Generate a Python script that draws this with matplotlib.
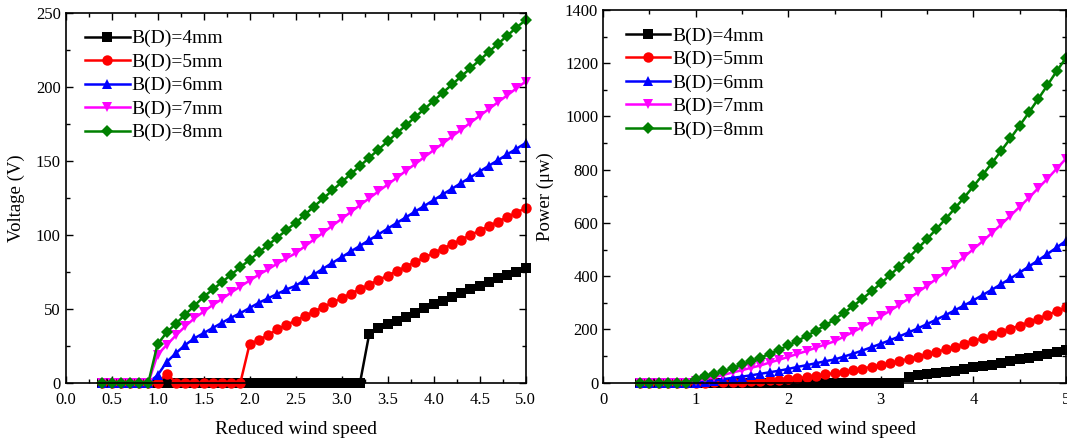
import matplotlib
matplotlib.use("Agg")
import matplotlib.pyplot as plt
from matplotlib.ticker import MultipleLocator, FormatStrFormatter

plt.rcParams['font.family'] = ['Liberation Serif', 'DejaVu Serif']

x = [0.4, 0.5, 0.6, 0.7, 0.8, 0.9, 1.0, 1.1, 1.2, 1.3, 1.4, 1.5, 1.6, 1.7, 1.8, 1.9,
     2.0, 2.1, 2.2, 2.3, 2.4, 2.5, 2.6, 2.7, 2.8, 2.9, 3.0, 3.1, 3.2, 3.3, 3.4, 3.5,
     3.6, 3.7, 3.8, 3.9, 4.0, 4.1, 4.2, 4.3, 4.4, 4.5, 4.6, 4.7, 4.8, 4.9, 5.0]

labels = ['B(D)=4mm', 'B(D)=5mm', 'B(D)=6mm', 'B(D)=7mm', 'B(D)=8mm']

# Voltage (V)
v_4mm = [0, 0, 0, 0, 0, 0, 0, 0, 0, 0, 0, 0, 0, 0, 0, 0,
         0, 0, 0, 0, 0, 0, 0, 0, 0, 0, 0, 0, 0, 33.0, 36.7, 39.4,
         42.0, 44.6, 47.3, 50.2, 53.0, 55.3, 57.8, 60.4, 63.0, 65.5, 68.2, 70.5, 72.8, 75.0, 77.3]
v_5mm = [0, 0, 0, 0, 0, 0, 0, 6.0, 0, 0, 0, 0, 0, 0, 0, 0,
         26.0, 29.0, 32.0, 36.0, 39.0, 42.0, 45.0, 48.1, 51.1, 54.2, 57.2, 60.2, 63.3, 66.3, 69.4, 72.4,
         75.4, 78.5, 81.5, 84.6, 87.6, 90.6, 93.7, 96.7, 99.8, 102.8, 105.8, 108.9, 111.9, 115.0, 118.0]
v_6mm = [0, 0, 0, 0, 0, 0, 5.0, 14.0, 20.0, 25.5, 30.0, 33.5, 37.0, 40.5, 44.0, 47.0,
         50.5, 54.0, 57.0, 60.0, 63.0, 65.5, 69.4, 73.2, 77.1, 81.0, 84.8, 88.7, 92.5, 96.4, 100.2, 104.1,
         108.0, 111.8, 115.7, 119.5, 123.4, 127.3, 131.1, 135.0, 138.8, 142.7, 146.6, 150.4, 154.3, 158.1, 162.0]
v_7mm = [0, 0, 0, 0, 0, 0, 19.0, 25.5, 32.0, 38.0, 43.5, 48.0, 52.5, 56.5, 61.0, 65.0,
         69.0, 73.0, 76.5, 80.5, 84.0, 87.5, 92.1, 96.8, 101.4, 106.1, 110.7, 115.3, 120.0, 124.6, 129.3, 133.9,
         138.5, 143.2, 147.8, 152.5, 157.1, 161.7, 166.4, 171.0, 175.7, 180.3, 184.9, 189.6, 194.2, 198.9, 203.5]
v_8mm = [0, 0, 0, 0, 0, 0, 26.0, 34.0, 40.0, 46.0, 52.0, 58.0, 63.0, 68.0, 73.0, 78.0,
         83.0, 88.0, 93.0, 98.0, 103.0, 108.0, 113.5, 119.0, 124.5, 130.0, 135.5, 141.0, 146.5, 152.0, 157.5, 163.0,
         168.5, 174.0, 179.5, 185.0, 190.5, 196.0, 201.5, 207.0, 212.5, 218.0, 223.5, 229.0, 234.5, 240.0, 245.0]

# Power (uW)
p_4mm = [0, 0, 0, 0, 0, 0, 0, 0, 0, 0, 0, 0, 0, 0, 0, 0,
         0, 0, 0, 0, 0, 0, 0, 0, 0, 0, 0, 0, 0, 22.1, 27.4, 31.6,
         35.9, 40.4, 45.5, 51.2, 57.1, 62.2, 67.9, 74.1, 80.7, 87.2, 94.5, 101.0, 107.7, 114.3, 121.4]
p_5mm = [0, 0, 0, 0, 0, 0, 0, 0.5, 1.0, 1.5, 2.5, 3.5, 5.0, 6.5, 8.5, 11.0,
         13.7, 17.1, 20.8, 26.3, 30.9, 35.9, 41.2, 47.0, 53.1, 59.7, 66.5, 73.7, 81.4, 89.3, 97.9, 106.5,
         115.5, 125.2, 135.0, 145.5, 156.0, 166.8, 178.4, 190.0, 202.4, 214.8, 227.5, 241.0, 254.5, 268.8, 283.0]
p_6mm = [0, 0, 0, 0, 0, 0, 0.5, 4.0, 8.1, 13.2, 18.3, 22.8, 27.8, 33.3, 39.3, 44.9,
         51.8, 59.3, 66.0, 73.2, 80.7, 87.2, 97.9, 108.9, 120.8, 133.4, 146.2, 159.9, 173.9, 188.9, 204.1, 220.3,
         237.1, 254.0, 272.1, 290.3, 309.5, 329.4, 349.3, 370.4, 391.6, 413.9, 436.8, 459.8, 483.9, 508.0, 533.4]
p_7mm = [0, 0, 0, 0, 0, 0, 7.3, 13.2, 20.8, 29.3, 38.5, 46.8, 56.0, 64.9, 75.6, 85.9,
         96.8, 108.3, 119.0, 131.7, 143.4, 155.6, 172.4, 190.5, 209.0, 228.8, 249.1, 270.2, 292.7, 315.6, 339.8, 364.4,
         389.9, 416.8, 444.0, 472.7, 501.6, 531.4, 562.8, 594.3, 627.5, 660.7, 694.9, 730.7, 766.5, 804.1, 841.7]
p_8mm = [0, 0, 0, 0, 0, 0, 13.7, 23.5, 32.5, 43.0, 55.0, 68.4, 80.7, 94.0, 108.3, 123.7,
         140.0, 157.4, 175.8, 195.2, 215.6, 237.0, 261.8, 287.8, 315.0, 343.5, 373.2, 404.0, 436.2, 469.6, 504.2, 540.0,
         577.0, 615.4, 655.0, 695.6, 737.6, 780.8, 825.2, 871.0, 917.8, 966.0, 1015.3, 1066.0, 1117.7, 1170.7, 1220.0]

colors = ['#000000', '#FF0000', '#0000FF', '#FF00FF', '#008000']
markers = ['s', 'o', '^', 'v', 'D']
msizes = [6.5, 7.5, 7.5, 7.5, 6.5]

W, H = 1067, 441
fig = plt.figure(figsize=(W / 100, H / 100), dpi=100)
ax1 = fig.add_axes([65.5 / W, 1 - 382.7 / H, (525.7 - 65.5) / W, (382.7 - 12.7) / H])
ax2 = fig.add_axes([603 / W, 1 - 382.7 / H, (1066 - 603) / W, (382.7 - 10) / H])


def draw(ax, series, bx):
    for ys, c, m, ms, lab in zip(series, colors, markers, msizes, labels):
        ax.plot(x, ys, color=c, marker=m, markersize=ms, linewidth=1.8, label=lab,
                markeredgewidth=0, clip_on=False)
    ax.tick_params(which='both', direction='in', top=True, right=True, labelsize=12,
                   width=1.0, colors='black')
    ax.tick_params(which='major', length=5)
    ax.tick_params(which='minor', length=3)
    ax.tick_params(axis='x', which='major', pad=7)
    for s in ax.spines.values():
        s.set_linewidth(1.2)
    ax.legend(loc='upper left', frameon=False, fontsize=14, handlelength=2.3,
              handletextpad=0.1, labelspacing=0.3, borderaxespad=0.0,
              bbox_to_anchor=(bx, 0.975))


draw(ax1, [v_4mm, v_5mm, v_6mm, v_7mm, v_8mm], 0.025)
ax1.set_xlim(0, 5)
ax1.set_ylim(0, 250)
ax1.xaxis.set_major_locator(MultipleLocator(0.5))
ax1.xaxis.set_minor_locator(MultipleLocator(0.25))
ax1.yaxis.set_major_locator(MultipleLocator(50))
ax1.yaxis.set_minor_locator(MultipleLocator(25))
ax1.xaxis.set_major_formatter(FormatStrFormatter('%.1f'))
ax1.set_xlabel('Reduced wind speed', fontsize=14, labelpad=9)
ax1.set_ylabel('Voltage (V)', fontsize=13.5, labelpad=8)

draw(ax2, [p_4mm, p_5mm, p_6mm, p_7mm, p_8mm], 0.032)
ax2.set_xlim(0, 5)
ax2.set_ylim(0, 1400)
ax2.xaxis.set_major_locator(MultipleLocator(1))
ax2.xaxis.set_minor_locator(MultipleLocator(0.5))
ax2.yaxis.set_major_locator(MultipleLocator(200))
ax2.yaxis.set_minor_locator(MultipleLocator(100))
ax2.set_xlabel('Reduced wind speed', fontsize=14, labelpad=9)
ax2.set_ylabel('Power (μw)', fontsize=13.5, labelpad=8)

fig.savefig('out.png', dpi=100)
